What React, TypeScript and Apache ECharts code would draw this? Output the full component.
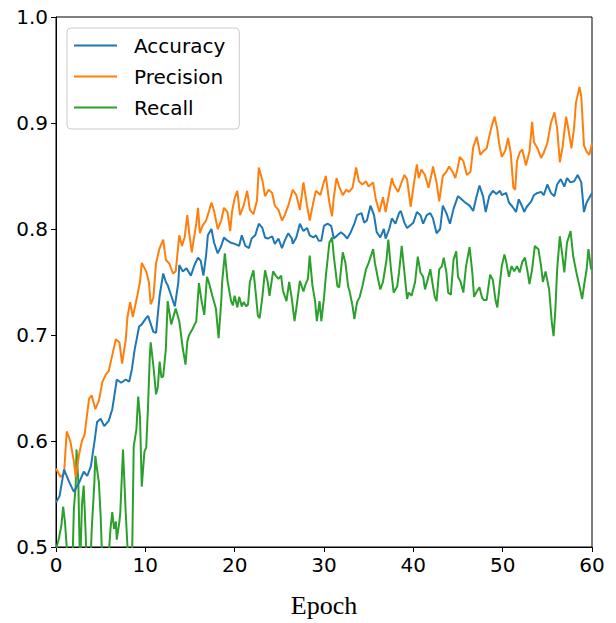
import React, { useEffect, useRef } from "react";
import * as echarts from "echarts";

const seriesNames = ["Accuracy", "Precision", "Recall"];
const seriesColors = ["#1f77b4", "#ff7f0e", "#2ca02c"];
const xTicks = [0, 10, 20, 30, 40, 50, 60];
const yTicks = [0.5, 0.6, 0.7, 0.8, 0.9, 1.0];

const accEpoch = [
  0.0, 0.4, 0.9, 1.5, 2.0, 2.6, 3.1, 3.5, 3.9, 4.3, 4.6, 5.0, 5.4, 5.9, 6.3, 6.7, 6.8, 7.3, 7.8, 8.2, 8.5, 8.8, 9.3, 9.6,
  10.0, 10.3, 10.9, 11.2, 11.6, 12.0, 12.3, 12.5, 12.9, 13.3, 13.7, 13.8, 14.2, 14.6, 15.1, 15.5, 15.9, 16.2, 16.5, 16.8,
  17.0, 17.4, 17.7, 18.1, 18.5, 18.8, 19.2, 19.6, 20.0, 20.5, 20.8, 21.2, 21.6, 21.9, 22.3, 22.7, 23.1, 23.4, 23.7, 24.2,
  24.5, 24.9, 25.3, 25.6, 26.0, 26.4, 26.5, 26.9, 27.3, 27.7, 28.1, 28.4, 28.8, 29.1, 29.4, 29.7, 30.0, 30.4, 30.8, 31.1,
  31.5, 31.9, 32.3, 32.6, 33.0, 33.4, 33.7, 34.2, 34.5, 34.8, 35.2, 35.6, 35.9, 36.3, 36.7, 36.9, 37.3, 37.6, 38.0, 38.4,
  38.6, 39.0, 39.3, 39.6, 40.0, 40.4, 40.8, 41.1, 41.5, 41.9, 42.2, 42.6, 43.0, 43.3, 43.7, 44.1, 44.5, 45.0, 45.4, 45.8,
  46.3, 46.7, 47.0, 47.4, 47.8, 48.1, 48.5, 48.9, 49.3, 49.7, 49.9, 50.4, 50.7, 51.1, 51.5, 51.8, 52.2, 52.4, 52.7, 53.2,
  53.5, 53.9, 54.3, 54.6, 55.0, 55.4, 55.8, 56.1, 56.5, 56.9, 57.2, 57.6, 58.0, 58.4, 58.8, 59.1, 59.4, 60.0,
];
const accValue = [
  0.542, 0.548, 0.573, 0.561, 0.552, 0.561, 0.571, 0.567, 0.576, 0.599, 0.618, 0.621, 0.614, 0.619, 0.63, 0.652, 0.658, 0.655, 0.658, 0.656, 0.668, 0.686, 0.708, 0.71,
  0.715, 0.718, 0.703, 0.702, 0.737, 0.758, 0.75, 0.747, 0.737, 0.727, 0.75, 0.766, 0.76, 0.763, 0.756, 0.766, 0.773, 0.77, 0.756, 0.775,
  0.794, 0.8, 0.787, 0.777, 0.784, 0.792, 0.789, 0.787, 0.786, 0.784, 0.794, 0.784, 0.782, 0.791, 0.794, 0.805, 0.801, 0.792, 0.791, 0.793,
  0.786, 0.791, 0.782, 0.789, 0.796, 0.791, 0.786, 0.792, 0.805, 0.798, 0.801, 0.794, 0.792, 0.794, 0.789, 0.789, 0.803, 0.805, 0.803, 0.791,
  0.794, 0.797, 0.794, 0.791, 0.797, 0.805, 0.813, 0.815, 0.806, 0.808, 0.822, 0.813, 0.797, 0.792, 0.8, 0.791, 0.8, 0.81, 0.805, 0.815,
  0.817, 0.806, 0.801, 0.803, 0.806, 0.816, 0.813, 0.805, 0.813, 0.815, 0.81, 0.796, 0.8, 0.822, 0.815, 0.805, 0.819, 0.831, 0.828, 0.825,
  0.822, 0.817, 0.828, 0.841, 0.831, 0.816, 0.831, 0.836, 0.833, 0.836, 0.832, 0.834, 0.825, 0.821, 0.816, 0.828, 0.821, 0.816, 0.821, 0.826,
  0.832, 0.834, 0.835, 0.832, 0.842, 0.834, 0.831, 0.842, 0.847, 0.84, 0.848, 0.844, 0.845, 0.851, 0.844, 0.816, 0.825, 0.834,
];

const precEpoch = [
  0.0, 0.5, 0.9, 1.2, 1.6, 2.0, 2.2, 2.6, 2.9, 3.2, 3.7, 4.0, 4.4, 4.8, 5.2, 5.6, 5.9, 6.3, 6.7, 7.1, 7.4, 7.8, 8.0, 8.3,
  8.6, 9.1, 9.4, 9.6, 10.1, 10.4, 10.6, 10.9, 11.2, 11.6, 12.0, 12.3, 12.7, 13.1, 13.4, 13.8, 14.1, 14.4, 14.7, 14.9,
  15.2, 15.7, 15.9, 16.1, 16.4, 16.8, 17.1, 17.4, 17.7, 18.1, 18.5, 18.8, 19.2, 19.5, 19.7, 20.0, 20.3, 20.6, 21.0, 21.4,
  21.7, 22.1, 22.5, 22.7, 23.1, 23.4, 23.8, 24.2, 24.5, 24.9, 25.3, 25.6, 26.0, 26.5, 26.9, 27.3, 27.7, 28.1, 28.4, 28.8,
  29.1, 29.6, 29.9, 30.2, 30.6, 30.9, 31.1, 31.4, 31.7, 32.1, 32.5, 32.8, 33.2, 33.6, 33.9, 34.3, 34.7, 35.0, 35.5, 35.8,
  36.2, 36.6, 36.9, 37.3, 37.6, 37.8, 38.3, 38.6, 39.0, 39.3, 39.7, 40.1, 40.4, 40.6, 40.9, 41.3, 41.7, 42.1, 42.2, 42.6,
  42.9, 43.3, 43.7, 44.0, 44.4, 44.7, 45.0, 45.2, 45.6, 46.0, 46.4, 46.7, 47.1, 47.5, 47.8, 48.2, 48.6, 48.8, 49.1, 49.4,
  49.6, 49.9, 50.3, 50.6, 50.9, 51.2, 51.4, 51.6, 51.9, 52.2, 52.6, 53.0, 53.3, 53.5, 53.9, 54.3, 54.6, 55.0, 55.4, 55.8,
  56.1, 56.4, 56.7, 57.1, 57.4, 57.7, 58.0, 58.2, 58.6, 58.8, 59.1, 59.4, 59.7, 60.0,
];
const precValue = [
  0.574, 0.566, 0.569, 0.609, 0.6, 0.581, 0.566, 0.588, 0.6, 0.606, 0.64, 0.643, 0.63, 0.638, 0.656, 0.663, 0.666, 0.681, 0.696, 0.693, 0.673, 0.695, 0.717, 0.731,
  0.717, 0.737, 0.75, 0.768, 0.76, 0.75, 0.729, 0.735, 0.768, 0.782, 0.79, 0.771, 0.767, 0.758, 0.76, 0.794, 0.784, 0.792, 0.813, 0.797,
  0.778, 0.805, 0.82, 0.796, 0.803, 0.808, 0.816, 0.825, 0.817, 0.8, 0.808, 0.82, 0.816, 0.798, 0.816, 0.829, 0.836, 0.813, 0.822, 0.836,
  0.818, 0.814, 0.827, 0.858, 0.846, 0.831, 0.837, 0.834, 0.822, 0.818, 0.808, 0.813, 0.822, 0.837, 0.832, 0.818, 0.844, 0.822, 0.808, 0.825,
  0.836, 0.832, 0.842, 0.85, 0.825, 0.812, 0.83, 0.848, 0.84, 0.832, 0.837, 0.835, 0.839, 0.858, 0.845, 0.842, 0.845, 0.84, 0.844, 0.828,
  0.816, 0.83, 0.816, 0.834, 0.848, 0.842, 0.835, 0.842, 0.851, 0.847, 0.821, 0.845, 0.861, 0.848, 0.856, 0.851, 0.839, 0.854, 0.859, 0.844,
  0.826, 0.85, 0.854, 0.859, 0.854, 0.848, 0.859, 0.868, 0.864, 0.851, 0.854, 0.877, 0.887, 0.87, 0.873, 0.876, 0.891, 0.898, 0.906, 0.894,
  0.881, 0.868, 0.874, 0.886, 0.872, 0.839, 0.837, 0.864, 0.872, 0.875, 0.86, 0.873, 0.901, 0.882, 0.876, 0.867, 0.872, 0.881, 0.9, 0.91,
  0.895, 0.863, 0.877, 0.906, 0.892, 0.876, 0.896, 0.919, 0.934, 0.925, 0.879, 0.873, 0.87, 0.881,
];

const recEpoch = [
  0.0, 0.1, 0.3, 0.6, 0.8, 1.0, 1.2, 1.5, 1.8, 2.0, 2.2, 2.3, 2.5, 2.6, 2.7, 2.9, 3.1, 3.3, 3.5, 3.8, 4.0, 4.3, 4.4, 4.6,
  4.8, 5.0, 5.2, 5.5, 5.8, 6.1, 6.3, 6.5, 6.7, 6.8, 7.1, 7.2, 7.5, 7.8, 8.0, 8.3, 8.5, 8.7, 9.0, 9.2, 9.4, 9.6, 9.9, 10.1,
  10.3, 10.5, 10.6, 10.9, 11.2, 11.4, 11.6, 11.8, 12.0, 12.3, 12.5, 12.9, 13.2, 13.4, 13.8, 14.2, 14.5, 14.7, 14.9, 15.3,
  15.7, 16.0, 16.3, 16.6, 16.9, 17.1, 17.5, 17.9, 18.2, 18.5, 18.6, 18.9, 19.2, 19.6, 19.8, 20.0, 20.3, 20.5, 20.8, 21.0,
  21.3, 21.5, 21.7, 22.1, 22.4, 22.6, 22.8, 23.1, 23.4, 23.7, 23.9, 24.3, 24.6, 24.9, 25.2, 25.4, 25.8, 26.1, 26.4, 26.7,
  26.9, 27.3, 27.7, 27.9, 28.2, 28.4, 28.7, 29.0, 29.2, 29.5, 29.7, 30.0, 30.2, 30.6, 30.9, 31.1, 31.5, 31.7, 32.1, 32.4,
  32.7, 32.9, 33.2, 33.4, 33.7, 34.0, 34.3, 34.7, 35.0, 35.5, 35.7, 36.0, 36.3, 36.6, 37.0, 37.2, 37.5, 37.8, 38.2, 38.4,
  38.7, 39.0, 39.3, 39.5, 39.8, 40.2, 40.5, 40.8, 41.1, 41.3, 41.6, 41.9, 42.2, 42.4, 42.6, 42.9, 43.2, 43.4, 43.7, 43.9,
  44.2, 44.5, 44.8, 45.0, 45.3, 45.6, 45.9, 46.3, 46.6, 46.8, 47.1, 47.4, 47.7, 47.9, 48.2, 48.6, 48.9, 49.2, 49.4, 49.7,
  49.9, 50.2, 50.4, 50.7, 51.0, 51.3, 51.6, 51.9, 52.2, 52.5, 52.8, 53.0, 53.3, 53.6, 54.0, 54.3, 54.5, 54.8, 55.2, 55.5,
  55.7, 55.9, 56.1, 56.4, 56.7, 56.9, 57.2, 57.6, 57.9, 58.3, 58.6, 58.9, 59.1, 59.4, 59.6, 59.9, 60.0,
];
const recValue = [
  0.49, 0.501, 0.507, 0.52, 0.538, 0.524, 0.5, 0.46, 0.47, 0.536, 0.557, 0.592, 0.561, 0.517, 0.48, 0.539, 0.558, 0.517, 0.47, 0.47, 0.517, 0.561, 0.586, 0.573,
  0.561, 0.529, 0.48, 0.46, 0.48, 0.517, 0.533, 0.517, 0.524, 0.507, 0.524, 0.533, 0.592, 0.533, 0.5, 0.46, 0.48, 0.595, 0.611, 0.642, 0.623, 0.557, 0.59, 0.594,
  0.632, 0.68, 0.693, 0.671, 0.644, 0.651, 0.675, 0.66, 0.661, 0.687, 0.732, 0.71, 0.719, 0.725, 0.713, 0.687, 0.672, 0.694, 0.7, 0.706,
  0.713, 0.749, 0.732, 0.719, 0.755, 0.75, 0.737, 0.725, 0.697, 0.732, 0.75, 0.777, 0.751, 0.732, 0.728, 0.737, 0.726, 0.736, 0.727, 0.731,
  0.727, 0.729, 0.75, 0.761, 0.736, 0.718, 0.716, 0.736, 0.761, 0.75, 0.737, 0.76, 0.756, 0.753, 0.756, 0.742, 0.732, 0.75, 0.734, 0.713,
  0.725, 0.751, 0.741, 0.747, 0.753, 0.775, 0.747, 0.732, 0.713, 0.732, 0.713, 0.735, 0.755, 0.787, 0.792, 0.774, 0.746, 0.745, 0.778, 0.768,
  0.746, 0.74, 0.727, 0.715, 0.731, 0.736, 0.746, 0.762, 0.768, 0.781, 0.768, 0.755, 0.743, 0.75, 0.771, 0.79, 0.762, 0.74, 0.746, 0.759,
  0.784, 0.759, 0.734, 0.74, 0.737, 0.75, 0.774, 0.759, 0.755, 0.743, 0.752, 0.762, 0.746, 0.736, 0.732, 0.762, 0.765, 0.773, 0.759, 0.74,
  0.738, 0.771, 0.779, 0.755, 0.75, 0.74, 0.765, 0.783, 0.759, 0.736, 0.741, 0.745, 0.735, 0.733, 0.733, 0.757, 0.752, 0.733, 0.726, 0.75,
  0.765, 0.776, 0.769, 0.755, 0.765, 0.76, 0.765, 0.759, 0.769, 0.773, 0.759, 0.748, 0.762, 0.784, 0.781, 0.765, 0.75, 0.76, 0.743, 0.712,
  0.699, 0.724, 0.762, 0.793, 0.774, 0.759, 0.787, 0.798, 0.774, 0.757, 0.746, 0.734, 0.746, 0.762, 0.781, 0.762, 0.765,
];

function zip(xs: number[], ys: number[]) {
  return xs.map((x, i) => [x, ys[i]]);
}

export default function App() {
  const ref = useRef<HTMLDivElement>(null);
  useEffect(() => {
    if (!ref.current) return;
    const chart = echarts.init(ref.current, null, { renderer: "svg" });
    const tickFont = { fontFamily: "DejaVu Sans", fontSize: 20, color: "#000" };
    const datasets = [zip(accEpoch, accValue), zip(precEpoch, precValue), zip(recEpoch, recValue)];
    chart.setOption({
      animation: false,
      backgroundColor: "#fff",
      grid: {
        left: 56,
        right: 24,
        top: 17,
        bottom: 75,
        show: true,
        borderColor: "#000",
        borderWidth: 1,
        backgroundColor: "transparent",
      },
      legend: {
        orient: "vertical",
        left: 67,
        top: 28,
        data: seriesNames.map((n, i) => ({ name: n, icon: "rect", itemStyle: { color: seriesColors[i] } })),
        icon: "rect",
        itemWidth: 43,
        itemHeight: 2,
        itemGap: 8,
        padding: [6, 14, 10, 7],
        backgroundColor: "rgba(255,255,255,0.8)",
        borderColor: "#cccccc",
        borderWidth: 1,
        borderRadius: 4,
        textStyle: {
          fontFamily: "DejaVu Sans",
          fontSize: 20,
          color: "#000",
          lineHeight: 23,
          padding: [0, 0, 0, 12],
        },
      },
      xAxis: {
        type: "value",
        min: xTicks[0],
        max: xTicks[xTicks.length - 1],
        interval: 10,
        name: "Epoch",
        nameLocation: "middle",
        nameGap: 45,
        nameTextStyle: { fontFamily: "Liberation Serif", fontSize: 26, color: "#000" },
        axisLine: { show: true, lineStyle: { color: "#000", width: 1 } },
        axisTick: { show: true, inside: false, length: 5, lineStyle: { color: "#000", width: 1 } },
        axisLabel: { ...tickFont, margin: 8, formatter: (v: number) => String(v) },
        splitLine: { show: false },
      },
      yAxis: {
        type: "value",
        min: yTicks[0],
        max: yTicks[yTicks.length - 1],
        interval: 0.1,
        axisLine: { show: true, lineStyle: { color: "#000", width: 1 } },
        axisTick: { show: true, inside: false, length: 5, lineStyle: { color: "#000", width: 1 } },
        axisLabel: { ...tickFont, margin: 8, formatter: (v: number) => v.toFixed(1) },
        splitLine: { show: false },
      },
      series: seriesNames.map((name, i) => ({
        name,
        type: "line",
        data: datasets[i],
        symbol: "none",
        showSymbol: false,
        clip: true,
        color: seriesColors[i],
        lineStyle: { color: seriesColors[i], width: 2 },
        z: 3 - i,
      })),
    });
    return () => chart.dispose();
  }, []);
  return (
    <div
      ref={ref}
      style={{ position: "fixed", left: 0, top: 0, width: 616, height: 623, background: "#fff" }}
    />
  );
}
